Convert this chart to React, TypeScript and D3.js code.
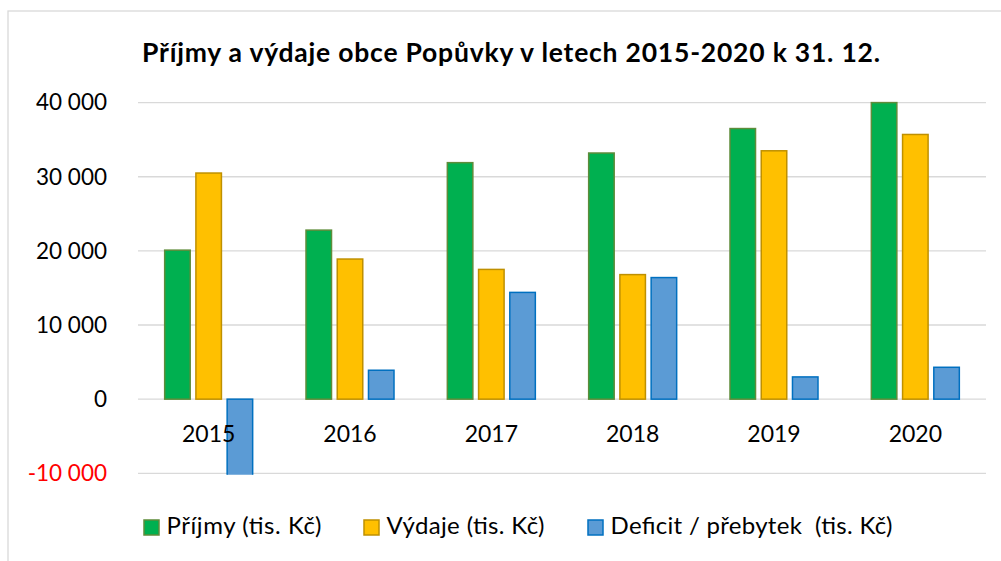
import React from "react";
import * as d3 from "d3";

const years = ["2015", "2016", "2017", "2018", "2019", "2020"];
const prijmy = [20100, 22800, 31900, 33200, 36500, 40000];
const vydaje = [30500, 18900, 17500, 16800, 33500, 35700];
const saldo = [-10400, 3900, 14400, 16400, 3000, 4300];
const yTicks = [-10000, 0, 10000, 20000, 30000, 40000];
const seriesNames = ["Příjmy (tis. Kč)", "Výdaje (tis. Kč)", "Deficit / přebytek  (tis. Kč)"];
const seriesFill = ["#00B050", "#FFC000", "#5B9BD5"];
const seriesStroke = ["#5E8C3A", "#BF9000", "#0070C0"];
const titleText = "Příjmy a výdaje obce Popůvky v letech 2015-2020 k 31. 12.";

const W = 1001;
const H = 561;
const FONT = "Lato, 'Open Sans', sans-serif";

export default function App() {
  const left = 138;
  const right = 986;
  const y = d3.scaleLinear().domain([-10000, 40000]).range([473.3, 102.6]);
  const x0 = d3.scaleBand<string>().domain(years).range([left, right]).paddingInner(0).paddingOuter(0);
  const groupW = 88;
  const x1 = d3
    .scaleBand<number>()
    .domain([0, 1, 2])
    .range([0, groupW])
    .paddingInner(0.183)
    .paddingOuter(0);
  const data = [prijmy, vydaje, saldo];
  const fmt = (v: number) => {
    const s = Math.abs(v).toString();
    const body = s.replace(/\B(?=(\d{3})+(?!\d))/g, " ");
    return (v < 0 ? "-" : "") + body;
  };
  const legendX = [144, 364, 588];
  const legendLen = [155, 158, 282];

  return (
    <svg
      width={W}
      height={H}
      style={{ position: "absolute", left: 0, top: 0, background: "#fff" }}
      fontFamily={FONT}
    >
      <defs>
        <clipPath id="plotclip">
          <rect x={left} y={90} width={right - left} height={y(-10000) + 1.5 - 90} />
        </clipPath>
      </defs>
      <rect x={0} y={0} width={W} height={H} fill="#fff" />
      <rect x={8} y={11} width={1100} height={700} fill="#fff" stroke="#D9D9D9" strokeWidth={1.3} />
      <text
        x={142}
        y={62}
        fontSize={26.5}
        fontWeight={700}
        fill="#000"
        textLength={738}
        lengthAdjust="spacing"
      >
        {titleText}
      </text>
      {yTicks.map((t) => (
        <g key={t}>
          <line x1={left} x2={right} y1={y(t)} y2={y(t)} stroke="#D9D9D9" strokeWidth={1.3} />
          <text
            x={107}
            y={y(t)}
            dy="0.35em"
            textAnchor="end"
            fontSize={22.5}
            fill={t < 0 ? "#FF0000" : "#000"}
          >
            {fmt(t)}
          </text>
        </g>
      ))}
      <g clipPath="url(#plotclip)">
        {years.map((yr, i) => {
          const cx = (x0(yr) as number) + x0.bandwidth() / 2;
          return (
            <g key={yr} transform={`translate(${cx - groupW / 2},0)`}>
              {data.map((arr, s) => {
                const v = arr[i];
                const y0 = y(0);
                const yv = y(v);
                return (
                  <rect
                    key={s}
                    x={x1(s) as number}
                    y={Math.min(y0, yv)}
                    width={x1.bandwidth()}
                    height={Math.abs(yv - y0)}
                    fill={seriesFill[s]}
                    stroke={seriesStroke[s]}
                    strokeWidth={1.5}
                  />
                );
              })}
            </g>
          );
        })}
      </g>
      {years.map((yr) => {
        const cx = (x0(yr) as number) + x0.bandwidth() / 2;
        return (
          <text key={yr} x={cx} y={441.5} textAnchor="middle" fontSize={23} fill="#000">
            {yr}
          </text>
        );
      })}
      {seriesNames.map((name, s) => (
        <g key={name}>
          <rect
            x={legendX[s]}
            y={520}
            width={15}
            height={15}
            fill={seriesFill[s]}
            stroke={seriesStroke[s]}
            strokeWidth={1.5}
          />
          <text
            x={legendX[s] + 22.5}
            y={534}
            fontSize={24}
            fill="#000"
            textLength={legendLen[s]}
            lengthAdjust="spacing"
            style={{ whiteSpace: "pre" }}
          >
            {name}
          </text>
        </g>
      ))}
    </svg>
  );
}
